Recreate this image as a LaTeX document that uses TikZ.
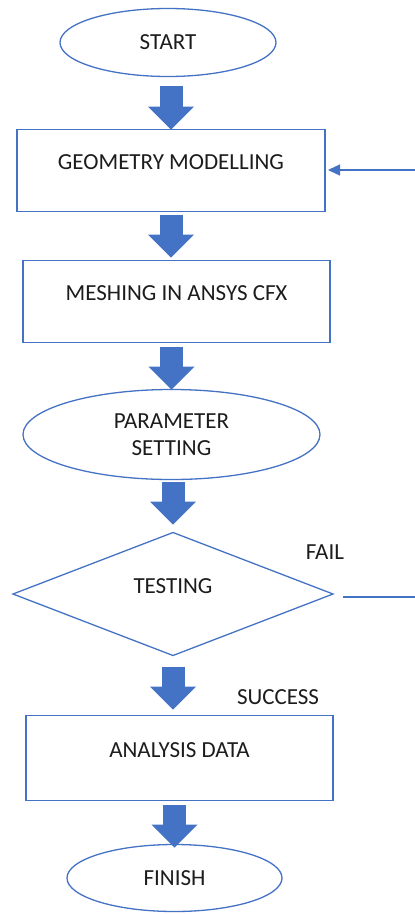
\documentclass[tikz,border=0pt]{standalone}
\usepackage{fontspec}
\setmainfont{Carlito}
\usetikzlibrary{shapes.geometric, arrows.meta, positioning}
\definecolor{lineblue}{HTML}{4472C4}
\definecolor{arrowblue}{HTML}{4472C4}
\definecolor{textgray}{HTML}{1C1C1C}

\begin{document}
\begin{tikzpicture}[
		x=1pt, y=1pt,
		>=Stealth,
		font=\fontsize{23}{27}\selectfont,
		base/.style={draw=lineblue, line width=1.3pt, text=textgray, inner sep=0pt, outer sep=0pt, align=center},
		term/.style={base, ellipse, minimum width=216pt, minimum height=68pt},
		proc/.style={base, rectangle, minimum width=307pt, minimum height=83pt,
			text height=15pt, text depth=17pt},
		decision/.style={base, diamond, minimum width=320pt, minimum height=123pt,
			text height=15pt, text depth=17pt},
		lbl/.style={text=textgray, inner sep=0pt},
		blockarr/.style={arrowblue, line width=23pt,
			-{Triangle[width=46pt, length=23pt, line width=0pt]}},
		fb/.style={lineblue, line width=1.3pt},
	]
		\useasboundingbox (0,0) rectangle (415,-914);

		% Flow steps
		\node[term] (start) at (168,-42.5) {START};
		\node[proc, below=53pt of start, xshift=3pt, minimum width=308pt, minimum height=82pt] (geom) {GEOMETRY MODELLING};
		\node[proc, below=49pt of geom, xshift=5.5pt, minimum height=82pt] (mesh) {MESHING IN ANSYS CFX};
		\node[term, below=47pt of mesh, xshift=-5pt, minimum width=297pt, minimum height=90pt] (param) {PARAMETER\\SETTING};
		\node[decision, below=53pt of param, xshift=1.5pt] (test) {TESTING};
		\node[proc, below=60pt of test, xshift=6.5pt, minimum height=85pt] (anal) {ANALYSIS DATA};
		\node[term, below=44pt of anal, xshift=-5pt, minimum width=215pt, minimum height=67pt] (finish) {FINISH};

		% Branch labels
		\node[lbl] (fail) at (325,-552) {FAIL};
		\node[lbl] (success) at (278,-697) {SUCCESS};

		% Block arrows
		\draw[blockarr] ([yshift=-9pt]start.south -| geom.north) -- (geom.north);
		\draw[blockarr] ([yshift=-3pt]geom.south) -- ([yshift=3pt]mesh.north -| geom.south);
		\draw[blockarr] ([yshift=-4pt]mesh.south -| param.north) -- (param.north);
		\draw[blockarr] ([yshift=-2pt]param.south -| test.north) -- ([yshift=8pt]test.north);
		\draw[blockarr] ([yshift=-11pt]test.south) -- ([yshift=6pt]anal.north -| test.south);
		\draw[blockarr] ([yshift=-4pt]anal.south -| finish.north) -- ([yshift=-3pt]finish.north);

		% Feedback loop (cut at the right edge)
		\coordinate (loopin) at (415,-170);
		\coordinate (loopout) at (415,-597);
		\draw[fb, -{Triangle[width=11pt, length=12pt]}] (loopin) -- ([xshift=3pt]loopin -| geom.east);
		\draw[fb] ([xshift=10pt]loopout -| test.east) -- (loopout);
	\end{tikzpicture}
\end{document}
